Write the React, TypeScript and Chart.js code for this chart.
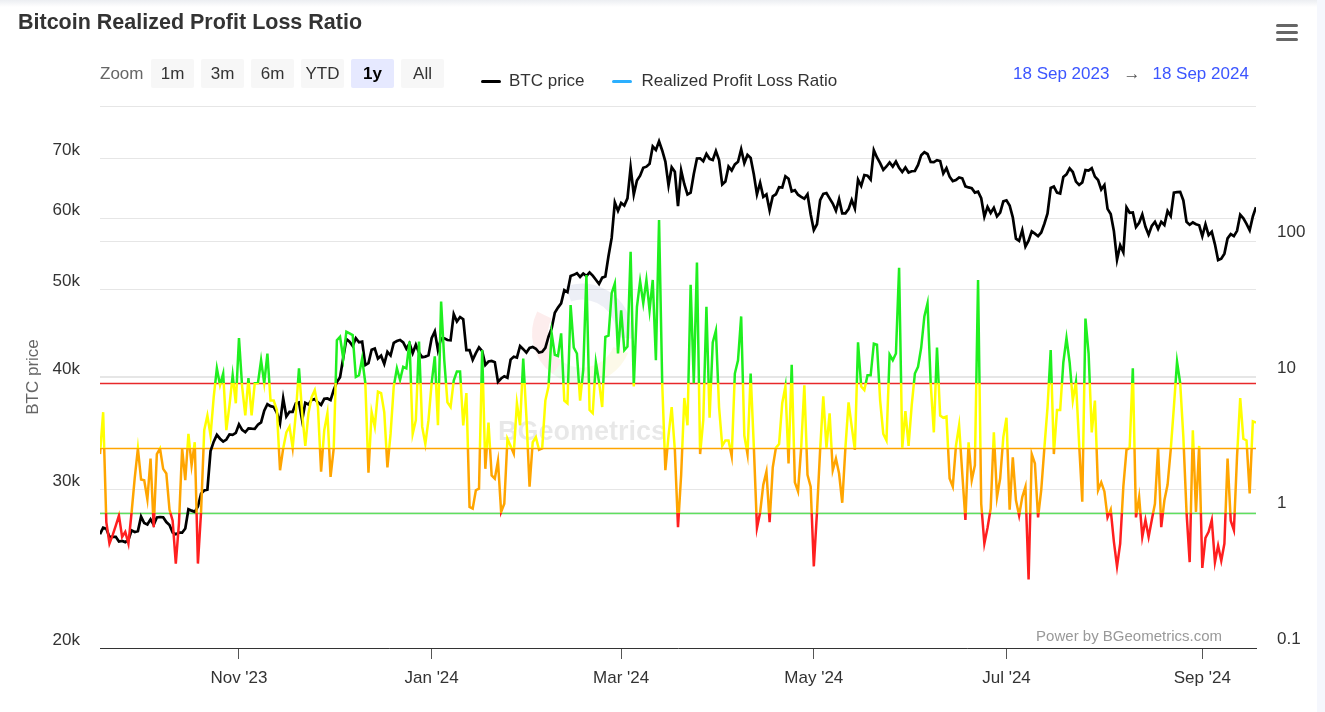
import React, { useEffect, useRef } from 'react';
import { Chart, registerables } from 'chart.js';

Chart.register(...registerables);

// ---------- data (daily, 18 Sep 2023 -> 18 Sep 2024) ----------
const START_DATE = '2023-09-18';

// BTC price, thousands of USD
const BTC_PRICE_K = [
  // Sep 2023 (18-30)
  26.76, 27.21, 27.13, 26.57, 26.58, 26.58, 26.26, 26.3, 26.22, 26.37, 27.02, 26.91, 26.97,
  // Oct
  27.99, 27.53, 27.43, 27.79, 27.41, 27.93, 27.96, 27.94, 27.6, 27.39, 26.87, 26.76, 26.86, 26.86, 27.15, 28.52,
  28.42, 28.33, 28.72, 29.68, 29.92, 29.99, 33.09, 33.9, 34.5, 34.16, 33.91, 34.09, 34.54, 34.5, 34.67,
  // Nov
  35.44, 34.94, 34.73, 35.08, 35.05, 35.04, 35.4, 35.62, 36.7, 37.31, 37.13, 37.06, 36.5, 35.54, 37.88,
  36.16, 36.59, 36.59, 37.39, 37.48, 35.81, 37.44, 37.29, 37.72, 37.8, 37.48, 37.25, 37.83, 37.86, 37.71,
  // Dec
  38.69, 39.48, 39.98, 41.99, 44.08, 43.77, 43.29, 44.17, 43.72, 43.79, 41.24, 41.45, 42.89, 43.02, 41.93,
  42.24, 41.36, 42.66, 42.26, 43.65, 43.86, 43.98, 43.7, 43.01, 43.58, 42.52, 43.44, 42.58, 42.07, 42.14, 42.28,
  // Jan 2024
  44.18, 44.95, 42.85, 44.18, 44.16, 43.97, 43.93, 46.97, 46.11, 46.63, 46.37, 42.85, 42.84, 41.8, 42.51,
  43.15, 42.74, 41.26, 41.62, 41.67, 41.55, 39.51, 39.85, 40.08, 39.93, 41.82, 42.12, 42.03, 43.3, 42.95, 42.58,
  // Feb
  43.08, 43.19, 43.0, 42.58, 42.66, 43.09, 44.34, 45.3, 47.15, 47.77, 48.29, 49.96, 49.7, 51.8, 51.94,
  52.16, 51.66, 52.12, 51.78, 52.26, 51.84, 51.3, 50.74, 51.57, 51.73, 54.52, 57.09, 62.5, 61.2,
  // Mar
  62.44, 62.03, 63.17, 68.33, 63.8, 66.11, 66.94, 68.3, 68.5, 69.02, 72.12, 71.48, 73.1, 71.4, 69.4,
  65.3, 68.39, 67.61, 61.94, 67.84, 65.5, 63.8, 64.1, 67.24, 69.96, 69.99, 69.45, 70.78, 69.89, 69.69, 71.3,
  // Apr
  69.65, 65.47, 65.96, 68.51, 67.84, 68.9, 69.36, 71.63, 69.14, 70.59, 70.06, 67.19, 63.82, 65.74, 63.42,
  63.81, 61.28, 63.51, 63.84, 64.99, 64.93, 66.84, 66.41, 64.29, 64.5, 63.76, 63.42, 63.11, 63.84, 60.64,
  // May
  58.25, 59.12, 62.89, 63.89, 64.03, 63.16, 62.33, 61.19, 63.05, 60.79, 60.79, 61.45, 62.9, 61.55, 66.27,
  65.23, 67.05, 66.94, 66.28, 71.45, 70.14, 69.12, 67.93, 68.53, 69.26, 68.52, 69.4, 68.3, 67.58, 68.36, 67.49,
  // Jun
  67.71, 67.75, 68.8, 70.55, 71.08, 70.76, 69.34, 69.31, 69.65, 69.5, 67.32, 68.24, 66.76, 66.01, 66.19,
  66.64, 66.49, 65.14, 64.96, 64.83, 64.1, 64.25, 63.18, 60.28, 61.8, 60.86, 61.67, 60.32, 60.89, 62.68,
  // Jul
  62.85, 62.03, 60.17, 56.98, 56.66, 58.23, 55.85, 56.7, 58.05, 57.72, 57.34, 57.89, 59.2, 60.79, 64.87,
  65.1, 64.12, 63.97, 66.71, 67.16, 68.19, 67.57, 65.93, 65.37, 65.8, 67.91, 67.81, 68.25, 66.78, 66.2, 64.62,
  // Aug
  65.35, 61.49, 60.68, 58.12, 53.99, 56.03, 55.03, 61.71, 60.88, 60.94, 58.71, 59.35, 60.61, 58.74, 57.56,
  58.88, 59.49, 58.43, 59.49, 59.01, 61.16, 60.38, 64.1, 64.18, 64.22, 62.83, 59.5, 59.03, 59.39, 59.12, 58.97,
  // Sep (1-18)
  57.33, 59.12, 57.49, 57.99, 56.16, 53.95, 54.14, 54.84, 57.02, 57.65, 57.34, 58.13, 60.57, 60.01, 59.18,
  58.21, 60.31, 61.76,
];

// Realized profit / loss ratio
const PL_RATIO = [
  2.7, 5.5, 0.85, 0.59, 0.68, 0.8, 0.95, 0.66, 0.72, 0.59,
  1.0, 1.8, 2.97, 1.75, 1.73, 1.25, 2.5, 0.78, 2.7, 2.97,
  2.1, 1.94, 1.05, 0.87, 0.42, 0.83, 2.97, 1.73, 3.8, 2.23,
  3.3, 0.42, 1.01, 4.05, 5.2, 3.7, 7.1, 11.6, 8.7, 10.6,
  4.05, 6.2, 10.3, 6.4, 19.4, 8.5, 5.2, 9.8, 5.2, 9.0,
  9.0, 13.3, 9.0, 14.9, 6.7, 6.7, 5.7, 2.05, 2.97, 3.9,
  4.3, 3.0, 5.4, 11.6, 5.4, 3.1, 5.4, 7.1, 8.0, 6.0,
  2.0, 4.05, 5.4, 1.83, 2.97, 18.7, 19.8, 13.7, 21.6, 21,
  20.4, 10, 10.3, 13.7, 9.0, 1.97, 5.5, 4.3, 7.8, 7.6,
  5.5, 2.15, 3.8, 8.5, 11.6, 9.5, 11.9, 11.6, 18.3, 3.8,
  4.8, 18.3, 4.3, 3.2, 4.8, 9.0, 14.2, 4.4, 36, 13.3,
  6.5, 6.0, 9.4, 11, 11, 4.4, 7.6, 1.1, 1.07, 1.46,
  1.5, 15.8, 2.1, 4.6, 1.88, 1.78, 2.4, 1.01, 1.16, 3.5,
  3.1, 2.72, 6.4, 4.4, 13.7, 5.1, 1.55, 3.3, 3.6, 2.9,
  2.97, 6.7, 8.5, 21, 14.6, 14.3, 21, 6.7, 6.4, 34,
  16.5, 14.9, 6.7, 11.3, 56.6, 5.7, 5.4, 12.8, 9.2, 6.0,
  19.8, 20.2, 41.5, 49, 14.9, 31, 15.8, 16.8, 84, 8.5,
  33, 51, 35, 52, 31, 52, 13.3, 144, 9, 2.05,
  3.7, 6.0, 2.9, 0.78, 1.9,
  7, 4.4, 48, 9, 70, 2.7, 4.8, 33, 5, 18,
  22, 6, 3.1, 3.4, 3.4, 2.6, 10.6, 13.3, 28, 3.7,
  2.7, 10.6, 3.1, 0.77, 1.0, 1.6, 2.0, 0.85, 2.15, 3.0,
  3.2, 6.4, 8.5, 2.3, 12.3, 1.67, 1.43, 3.0, 8.7, 1.9,
  1.55, 0.4, 1.0, 2.9, 7.2, 3, 5.4, 2.05, 2.5, 1.94,
  1.18, 3.0, 6.5, 4.3, 2.9, 18, 8.5, 8.0, 10.3, 10.3,
  17.6, 17.3, 6.7, 3.8, 3.4, 14.6, 13.3, 14.9, 64, 3.0,
  5.6, 3.1, 6.2, 10.6, 11.9, 16.5, 28, 35, 9, 3.9,
  16.5, 5.2, 5, 5.1, 1.78, 1.55, 3.1, 4.4, 1.94, 0.88,
  3.3, 1.73, 2.23, 52, 1.16, 0.59, 0.77, 1.07, 3.9, 1.3,
  1.78, 3.6, 5, 1.05, 2.55, 1.23, 0.95, 1.3, 1.55, 0.32,
  2.7, 2.3, 0.92, 1.46, 3.0, 6.0, 15.8, 2.7, 5.7, 5.7,
  12.8, 19.4, 12.8, 6.7, 9.2, 3.2, 1.2, 27, 14.9, 3.9,
  6.7, 1.46, 1.67, 1.43, 0.92, 1.05, 0.61, 0.4, 0.59, 1.55,
  2.9, 3.0, 11.6, 0.92, 1.3, 0.66, 0.88, 0.66, 0.88, 1.16,
  3.0, 0.78, 1.23, 1.6, 2.9, 6.0, 13, 9, 3.6, 1.01,
  0.43, 4.05, 1.01, 3.1, 0.39, 0.65, 0.72, 0.88, 0.43, 0.57,
  0.44, 0.59, 2.5, 0.87, 0.74, 2.6, 7, 3.5, 3.4, 1.38,
  4.7, 4.6,
];

const X_TICK_DATES = ['2023-11-01', '2024-01-01', '2024-03-01', '2024-05-01', '2024-07-01', '2024-09-01'];
const X_TICK_LABELS = ["Nov '23", "Jan '24", "Mar '24", "May '24", "Jul '24", "Sep '24"];
const PRICE_TICKS_K = [20, 30, 40, 50, 60, 70, 80];
const RATIO_TICKS = [0.1, 1, 10, 100, 1000];
const RATIO_LEVELS = [1, 3, 9];
const LEVEL_COLORS = ['#5fe05f', '#ffa500', '#e8292b'];
const ZONE_COLORS = ['#ff1f1f', '#ffa500', '#ffff00', '#1fef1f'];

const FONT = '"Liberation Sans", Arial, Helvetica, sans-serif';

const decorPlugin = {
  id: 'decor',
  beforeDatasetsDraw(chart: any) {
    const { ctx, chartArea, scales } = chart;
    const { left, right, top, bottom } = chartArea;
    ctx.save();
    // watermark logo + text
    const cx = left + (right - left) * 0.417;
    const cy = top + (bottom - top) * 0.42;
    const r = 42;
    const arcs: [number, number, string][] = [
      [-1.9, 0.1, 'rgba(60,80,150,0.09)'],
      [2.2, 3.6, 'rgba(230,60,60,0.09)'],
      [0.4, 1.5, 'rgba(230,200,40,0.10)'],
      [1.5, 2.2, 'rgba(60,200,60,0.08)'],
    ];
    arcs.forEach(([a0, a1, c]) => {
      ctx.beginPath();
      ctx.strokeStyle = c;
      ctx.lineWidth = 16;
      ctx.arc(cx, cy, r, a0, a1);
      ctx.stroke();
    });
    ctx.font = `bold 27px ${FONT}`;
    ctx.fillStyle = 'rgba(0,0,0,0.09)';
    ctx.textAlign = 'center';
    ctx.textBaseline = 'middle';
    ctx.fillText('BGeometrics', cx, top + (bottom - top) * 0.602);
    // level lines
    RATIO_LEVELS.forEach((lv, k) => {
      const y = Math.round(scales.y2.getPixelForValue(lv)) + 0.5;
      ctx.beginPath();
      ctx.strokeStyle = LEVEL_COLORS[k];
      ctx.lineWidth = k === 0 ? 1.3 : 1.5;
      ctx.moveTo(left, y);
      ctx.lineTo(right, y);
      ctx.stroke();
    });
    ctx.restore();
  },
};

export default function App() {
  const canvasRef = useRef<HTMLCanvasElement>(null);

  useEffect(() => {
    const canvas = canvasRef.current;
    if (!canvas) return;
    const t0 = Date.parse(START_DATE + 'T00:00:00Z');
    const dayIndex = (d: string) => Math.round((Date.parse(d + 'T00:00:00Z') - t0) / 86400000);
    const xTicks = X_TICK_DATES.map(dayIndex);

    const priceData = BTC_PRICE_K.map((v, i) => ({ x: i, y: v }));
    const ratioData = PL_RATIO.map((v, i) => ({ x: i, y: v }));

    const zoneGradient = (c: any) => {
      const chart = c.chart;
      const area = chart.chartArea;
      const sc = chart.scales && chart.scales.y2;
      if (!area || !sc) return ZONE_COLORS[2];
      const h = area.bottom - area.top;
      const g = chart.ctx.createLinearGradient(0, area.bottom, 0, area.top);
      let prev = 0;
      RATIO_LEVELS.forEach((lv, k) => {
        const s = Math.min(1, Math.max(0, (area.bottom - sc.getPixelForValue(lv)) / h));
        g.addColorStop(prev, ZONE_COLORS[k]);
        g.addColorStop(s, ZONE_COLORS[k]);
        prev = s;
      });
      g.addColorStop(prev, ZONE_COLORS[3]);
      g.addColorStop(1, ZONE_COLORS[3]);
      return g;
    };

    const chart = new Chart(canvas, {
      type: 'line',
      data: {
        datasets: [
          {
            label: 'Realized Profit Loss Ratio',
            data: ratioData,
            yAxisID: 'y2',
            borderColor: zoneGradient,
            borderWidth: 2.5,
            pointRadius: 0,
            tension: 0,
            order: 1,
          },
          {
            label: 'BTC price',
            data: priceData,
            yAxisID: 'y',
            borderColor: '#000000',
            borderWidth: 2.7,
            pointRadius: 0,
            tension: 0,
            order: 2,
          },
        ],
      },
      options: {
        responsive: false,
        animation: false,
        devicePixelRatio: 1,
        layout: { padding: { top: 106, left: 0, right: 0, bottom: 0 } },
        plugins: {
          legend: { display: false },
          tooltip: { enabled: false },
        },
        scales: {
          x: {
            type: 'linear',
            min: 0,
            max: PL_RATIO.length - 1,
            afterBuildTicks: (s: any) => {
              s.ticks = xTicks.map((v) => ({ value: v }));
            },
            ticks: {
              autoSkip: false,
              maxRotation: 0,
              color: '#333333',
              font: { family: FONT, size: 17 },
              padding: 9,
              callback: (v: any) => {
                const k = xTicks.indexOf(v);
                return k >= 0 ? X_TICK_LABELS[k] : '';
              },
            },
            grid: { drawOnChartArea: false, drawTicks: true, tickLength: 11, color: '#555555', lineWidth: 1 },
            border: { display: true, color: '#333333', width: 1 },
            afterFit: (s: any) => {
              s.height = 64;
            },
          },
          y: {
            type: 'logarithmic',
            position: 'left',
            min: 20,
            max: 80,
            afterBuildTicks: (s: any) => {
              s.ticks = PRICE_TICKS_K.map((v) => ({ value: v }));
            },
            ticks: {
              color: '#333333',
              font: { family: FONT, size: 17 },
              padding: 20,
              labelOffset: -8,
              callback: (v: any) => (v === 80 ? '' : `${v}k`),
            },
            grid: { color: '#e6e6e6', drawTicks: false, lineWidth: 1 },
            border: { display: false },
            title: {
              display: true,
              text: 'BTC price',
              color: '#666666',
              font: { family: FONT, size: 17 },
              padding: { top: 23, bottom: 0 },
            },
            afterFit: (s: any) => {
              s.width = 100;
            },
          },
          y2: {
            type: 'logarithmic',
            position: 'right',
            min: 0.1,
            max: 1000,
            afterBuildTicks: (s: any) => {
              s.ticks = RATIO_TICKS.map((v) => ({ value: v }));
            },
            ticks: {
              color: '#333333',
              font: { family: FONT, size: 17 },
              padding: 21,
              labelOffset: -9,
              callback: (v: any) => (v === 1000 ? '' : String(v)),
            },
            grid: { color: '#e6e6e6', drawTicks: false, lineWidth: 1 },
            border: { display: false },
            afterFit: (s: any) => {
              s.width = 61;
            },
          },
        },
      } as any,
      plugins: [decorPlugin],
    });
    return () => chart.destroy();
  }, []);

  const zoomButtons = ['1m', '3m', '6m', 'YTD', '1y', 'All'];

  return (
    <div
      style={{
        position: 'absolute',
        left: 0,
        top: 0,
        width: 1325,
        height: 712,
        background: '#ffffff',
        overflow: 'hidden',
        fontFamily: FONT,
      }}
    >
      <div style={{ position: 'absolute', left: 0, top: 0, width: 1325, height: 7, background: 'linear-gradient(#eceef2, #ffffff)' }} />
      <div style={{ position: 'absolute', left: 1317, top: 0, width: 8, height: 712, background: '#f5f7fd' }} />
      <canvas ref={canvasRef} width={1317} height={712} style={{ position: 'absolute', left: 0, top: 0, width: 1317, height: 712 }} />
      <div style={{ position: 'absolute', left: 18, top: 12, fontSize: 21.5, lineHeight: '21.5px', fontWeight: 'bold', color: '#333333', whiteSpace: 'nowrap' }}>
        Bitcoin Realized Profit Loss Ratio
      </div>
      {[24, 31, 38].map((y) => (
        <div key={y} style={{ position: 'absolute', left: 1276, top: y, width: 22, height: 3, borderRadius: 1.5, background: '#666666' }} />
      ))}
      <div style={{ position: 'absolute', left: 100, top: 60, height: 28, display: 'flex', alignItems: 'center', fontSize: 17, color: '#666666' }}>
        Zoom
      </div>
      {zoomButtons.map((b, i) => (
        <div
          key={b}
          style={{
            position: 'absolute',
            left: 151 + i * 50,
            top: 59,
            width: 43,
            height: 29,
            borderRadius: 2,
            background: b === '1y' ? '#e6e9ff' : '#f7f7f7',
            display: 'flex',
            alignItems: 'center',
            justifyContent: 'center',
            fontSize: 17,
            fontWeight: b === '1y' ? 'bold' : 'normal',
            color: b === '1y' ? '#000000' : '#333333',
          }}
        >
          {b}
        </div>
      ))}
      <div style={{ position: 'absolute', left: 481, top: 70, height: 22, display: 'flex', alignItems: 'center', fontSize: 17, color: '#333333', whiteSpace: 'nowrap' }}>
        <span style={{ display: 'inline-block', width: 20, height: 3, borderRadius: 1.5, background: '#000000', marginRight: 8 }} />
        <span>BTC price</span>
        <span style={{ display: 'inline-block', width: 20, height: 3, borderRadius: 1.5, background: '#2caffe', marginLeft: 27, marginRight: 10 }} />
        <span>Realized Profit Loss Ratio</span>
      </div>
      <div style={{ position: 'absolute', left: 1013, top: 63, height: 22, display: 'flex', alignItems: 'center', fontSize: 17, whiteSpace: 'nowrap' }}>
        <span style={{ color: '#3b55ff' }}>18 Sep 2023</span>
        <span style={{ color: '#555555', margin: '0 12px 0 14px' }}>→</span>
        <span style={{ color: '#3b55ff' }}>18 Sep 2024</span>
      </div>
      <div style={{ position: 'absolute', right: 103, top: 627, fontSize: 15, lineHeight: '18px', color: '#999999', whiteSpace: 'nowrap' }}>
        Power by BGeometrics.com
      </div>
    </div>
  );
}
